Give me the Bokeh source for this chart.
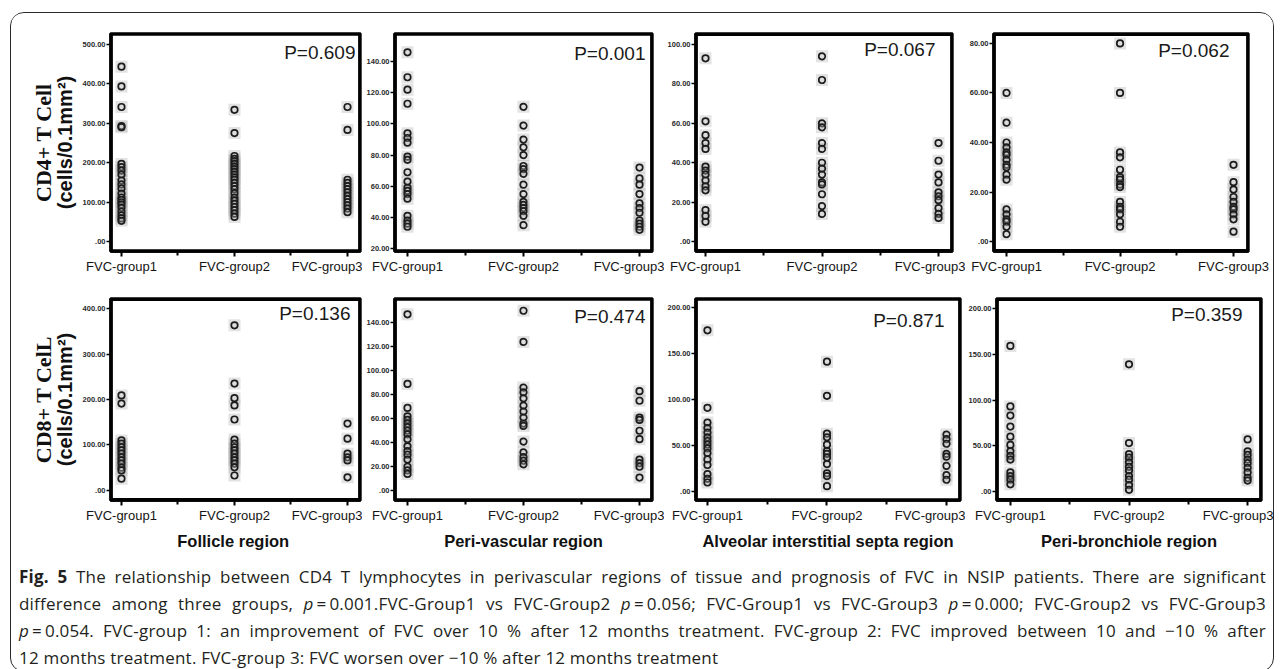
from bokeh.plotting import figure
from bokeh.models import FixedTicker, LinearAxis, Label, Range1d, Div
from bokeh.layouts import row, column
from bokeh.embed import file_html
from bokeh.resources import INLINE

# ---------------- data ----------------
groups = ["FVC-group1", "FVC-group2", "FVC-group3"]
group_pos = [1, 2, 3]
regions = ["Follicle  region", "Peri-vascular region",
           "Alveolar interstitial septa region", "Peri-bronchiole region"]
row_labels_serif = ["CD4+ T Cell", "CD8+ T CelL"]
row_label_sans = "(cells/0.1mm\u00b2)"

p_cd4 = ["P=0.609", "P=0.001", "P=0.067", "P=0.062"]
p_cd8 = ["P=0.136", "P=0.474", "P=0.871", "P=0.359"]

# CD4+ T cells
cd4_follicle_g1 = [443, 393, 341, 293, 290, 197, 189, 180, 170, 155, 145, 135, 122, 112, 106, 100, 94, 86, 76, 67, 59, 53]
cd4_follicle_g2 = [334, 275, 217, 210, 204, 197, 190, 184, 177, 170, 163, 157, 149, 141, 133, 123, 112, 104, 96, 88, 80, 71, 63]
cd4_follicle_g3 = [341, 283, 157, 149, 141, 133, 125, 116, 108, 100, 92, 84, 75]

cd4_perivasc_g1 = [146, 130, 122, 113, 94, 91, 88, 79, 77, 69, 63, 59, 57, 55, 52, 41, 38, 36, 34]
cd4_perivasc_g2 = [111, 99, 90, 85, 80, 73, 71, 68, 61, 55, 50, 48, 46, 44, 41, 35]
cd4_perivasc_g3 = [72, 65, 61, 55, 49, 46, 43, 38, 36, 34, 32]

cd4_alveolar_g1 = [93, 61, 54, 50, 47, 38, 36, 34, 31, 28, 26, 16, 13, 10]
cd4_alveolar_g2 = [94, 82, 60, 58, 50, 47, 40, 37, 34, 30, 29, 24, 18, 14]
cd4_alveolar_g3 = [50, 41, 34, 30, 25, 23, 21, 17, 14, 12]

cd4_bronch_g1 = [60, 48, 40, 38, 36, 35, 33, 31, 30, 27, 25, 13, 11, 9, 8, 6, 3]
cd4_bronch_g2 = [80, 60, 36, 34, 29, 26, 25, 23, 22, 16, 14, 13, 11, 8, 6]
cd4_bronch_g3 = [31, 24, 21, 18, 16, 14, 13, 11, 9, 4]

# CD8+ T cells
cd8_follicle_g1 = [209, 191, 110, 103, 95, 88, 81, 73, 66, 59, 50, 44, 26]
cd8_follicle_g2 = [363, 235, 203, 187, 156, 112, 103, 95, 88, 81, 73, 66, 59, 51, 33]
cd8_follicle_g3 = [147, 114, 81, 73, 66, 29]

cd8_perivasc_g1 = [147, 89, 69, 62, 59, 56, 53, 50, 47, 43, 37, 33, 30, 26, 20, 17, 14]
cd8_perivasc_g2 = [150, 124, 86, 82, 77, 71, 66, 61, 56, 54, 41, 32, 28, 25, 22]
cd8_perivasc_g3 = [83, 75, 61, 59, 50, 43, 26, 23, 20, 11]

cd8_alveolar_g1 = [175, 91, 75, 69, 64, 59, 55, 51, 47, 42, 35, 29, 19, 14, 10]
cd8_alveolar_g2 = [141, 104, 63, 59, 51, 44, 41, 37, 30, 20, 17, 6]
cd8_alveolar_g3 = [62, 57, 52, 41, 38, 28, 18, 13]

cd8_bronch_g1 = [159, 93, 83, 71, 60, 51, 44, 39, 35, 21, 17, 13, 8]
cd8_bronch_g2 = [139, 53, 41, 37, 32, 27, 23, 17, 13, 7, 2]
cd8_bronch_g3 = [57, 44, 40, 35, 31, 26, 21, 15, 12]

# y tick values per panel
yticks_cd4 = [[0, 100, 200, 300, 400, 500],
              [20, 40, 60, 80, 100, 120, 140],
              [0, 20, 40, 60, 80, 100],
              [0, 20, 40, 60, 80]]
yticks_cd8 = [[0, 100, 200, 300, 400],
              [0, 20, 40, 60, 80, 100, 120, 140],
              [0, 50, 100, 150, 200],
              [0, 50, 100, 150, 200]]

caption_lines = [
    "<b>Fig. 5</b> The relationship between CD4 T lymphocytes in perivascular regions of tissue and prognosis of FVC in NSIP patients. There are significant",
    "difference among three groups, <i>p</i>\u2009=\u20090.001.FVC-Group1 vs FVC-Group2 <i>p</i>\u2009=\u20090.056; FVC-Group1 vs FVC-Group3 <i>p</i>\u2009=\u20090.000; FVC-Group2 vs FVC-Group3",
    "<i>p</i>\u2009=\u20090.054. FVC-group 1: an improvement of FVC over 10 % after 12 months treatment. FVC-group 2: FVC improved between 10 and \u221210 % after",
    "12 months treatment. FVC-group 3: FVC worsen over \u221210 % after 12 months treatment",
]

cd4_data = [[cd4_follicle_g1, cd4_follicle_g2, cd4_follicle_g3],
            [cd4_perivasc_g1, cd4_perivasc_g2, cd4_perivasc_g3],
            [cd4_alveolar_g1, cd4_alveolar_g2, cd4_alveolar_g3],
            [cd4_bronch_g1, cd4_bronch_g2, cd4_bronch_g3]]
cd8_data = [[cd8_follicle_g1, cd8_follicle_g2, cd8_follicle_g3],
            [cd8_perivasc_g1, cd8_perivasc_g2, cd8_perivasc_g3],
            [cd8_alveolar_g1, cd8_alveolar_g2, cd8_alveolar_g3],
            [cd8_bronch_g1, cd8_bronch_g2, cd8_bronch_g3]]

# ---------------- layout / style ----------------
# (width, height, border left, right, top, bottom, y_start, y_end, x_start, x_end, p_right_off, p_top_off)
layout_cd4 = [
    (351, 267, 99, 2, 15, 28, -24.6, 527, 0.903, 3.115, 5, 8),
    (302, 267, 32, 12, 15, 28, 18.1, 158.1, 0.888, 3.112, 7, 9),
    (301, 267, 31, 13, 20, 28, -5.05, 105.6, 0.914, 3.12, 17, 5),
    (308, 267, 28, 25, 19, 29, -4.0, 84.0, 0.885, 3.132, 19, 6),
]
layout_cd8 = [
    (351, 275, 99, 2, 18, 55, -22, 422, 0.903, 3.115, 10, 4),
    (302, 275, 32, 12, 13, 55, -8.1, 160.2, 0.888, 3.112, 7, 7),
    (301, 275, 31, 5, 12, 55, -9.5, 209.5, 0.9, 3.117, 16, 11),
    (308, 275, 28, 12, 15, 55, -9.7, 210.8, 0.883, 3.117, 19, 5),
]

SANS = "Liberation Sans"
SERIF = "Liberation Serif"
INK = "#000000"
FRAME_W = 2.4


def tick_label(v):
    return ".00" if v == 0 else f"{v:.2f}"


def make_panel(data, yticks, lay, ptext, first, bottom, region, serif_label):
    (w, h, bl, br, bt, bb, y0, y1, x0, x1, pro, pto) = lay
    p = figure(width=w, height=h, output_backend="svg", toolbar_location=None,
               x_range=Range1d(x0, x1), y_range=Range1d(y0, y1),
               min_border_left=bl, min_border_right=br,
               min_border_top=bt, min_border_bottom=bb,
               background_fill_color="white", border_fill_color="white")
    p.xgrid.visible = False
    p.ygrid.visible = False
    p.outline_line_color = INK
    p.outline_line_width = FRAME_W
    p.outline_line_alpha = 1.0

    for gp, vals in zip(group_pos, data):
        xs = [gp] * len(vals)
        p.scatter(xs, vals, marker="square", size=12, fill_color="#9a9a9a",
                  fill_alpha=0.28, line_color=None)
        p.scatter(xs, vals, marker="circle", size=6.5, fill_color="#cfcfcf",
                  fill_alpha=0.3, line_color="#1c1c1c", line_width=1.7)

    # frame drawn as a glyph, inset so the whole stroke stays inside the frame
    fw = w - bl - br
    fh = h - bt - bb
    ix = (x1 - x0) / fw * (FRAME_W / 2)
    iy = (y1 - y0) / fh * (FRAME_W / 2)
    p.quad(left=[x0 + ix], right=[x1 - ix], bottom=[y0 + iy], top=[y1 - iy],
           fill_alpha=0, line_color=INK, line_width=FRAME_W)

    # x axis
    xa = p.xaxis[0]
    xa.ticker = FixedTicker(ticks=group_pos, minor_ticks=[1.5, 2.5])
    xa.major_label_overrides = {g: name for g, name in zip(group_pos, groups)}
    xa.major_label_text_font = SANS
    xa.major_label_text_font_size = "13px"
    xa.major_label_text_color = "#141414"
    xa.major_tick_in = 0
    xa.major_tick_out = 5
    xa.major_tick_line_width = 2
    xa.major_tick_line_color = INK
    xa.minor_tick_in = 0
    xa.minor_tick_out = 4
    xa.minor_tick_line_width = 2
    xa.minor_tick_line_color = INK
    xa.major_label_standoff = 2
    xa.axis_line_color = INK
    xa.axis_line_width = FRAME_W
    if bottom:
        xa.axis_label = region
        xa.axis_label_text_font = SANS
        xa.axis_label_text_font_style = "bold"
        xa.axis_label_text_font_size = "16.5px"
        xa.axis_label_text_color = "#111111"
        xa.axis_label_standoff = 6

    # y axis
    ya = p.yaxis[0]
    ya.ticker = FixedTicker(ticks=yticks, minor_ticks=[])
    ya.major_label_overrides = {v: tick_label(v) for v in yticks}
    ya.major_label_text_font = SANS
    ya.major_label_text_font_style = "bold"
    ya.major_label_text_font_size = "7.5px"
    ya.major_label_text_color = "#2a2a2a"
    ya.major_tick_in = 0
    ya.major_tick_out = 4
    ya.major_tick_line_width = 1.5
    ya.major_tick_line_color = INK
    ya.major_label_standoff = 1
    ya.axis_line_color = INK
    ya.axis_line_width = FRAME_W
    if first:
        ya.axis_label = row_label_sans
        ya.axis_label_text_font = SANS
        ya.axis_label_text_font_style = "bold"
        ya.axis_label_text_font_size = "20px"
        ya.axis_label_text_color = "#111111"
        ya.axis_label_standoff = 4
        extra = LinearAxis(axis_label=serif_label,
                           ticker=FixedTicker(ticks=[], minor_ticks=[]),
                           axis_label_text_font=SERIF,
                           axis_label_text_font_style="bold",
                           axis_label_text_font_size="22px",
                           axis_label_text_color="#111111",
                           axis_label_standoff=-5,
                           major_label_standoff=0,
                           major_tick_line_color=None,
                           minor_tick_line_color=None,
                           major_tick_out=0, minor_tick_out=0,
                           axis_line_color=None)
        p.add_layout(extra, "left")

    p.add_layout(Label(x=x1, y=y1, x_offset=-pro, y_offset=-pto, text=ptext,
                       text_align="right", text_baseline="top",
                       text_font=SANS, text_font_size="19px",
                       text_color="#1a1a1a"))
    return p


row1 = [make_panel(cd4_data[i], yticks_cd4[i], layout_cd4[i], p_cd4[i],
                   i == 0, False, regions[i], row_labels_serif[0]) for i in range(4)]
row2 = [make_panel(cd8_data[i], yticks_cd8[i], layout_cd8[i], p_cd8[i],
                   i == 0, True, regions[i], row_labels_serif[1]) for i in range(4)]

cap_html = ""
for i, line in enumerate(caption_lines):
    last = "left" if i == len(caption_lines) - 1 else "justify"
    cap_html += (f'<div style="display:block;width:1247px;text-align:justify;'
                 f'text-align-last:{last};height:27px;line-height:27px;'
                 f'letter-spacing:0.2px;overflow:visible;">{line}</div>')
caption = Div(text=cap_html, width=1247, height=108, margin=(8, 0, 0, 8),
              styles={"font-family": "'Open Sans', sans-serif", "font-size": "17px",
                      "color": "#231f20", "width": "1247px"})

root = column(row(*row1), row(*row2), caption,
              margin=(12, 0, 0, 10),
              styles={"border": "1.5px solid #2a2a2a", "border-radius": "14px",
                      "background": "white", "overflow": "hidden"})

html = file_html(root, INLINE, title="Fig. 5")
open("out.html", "w").write(html)
